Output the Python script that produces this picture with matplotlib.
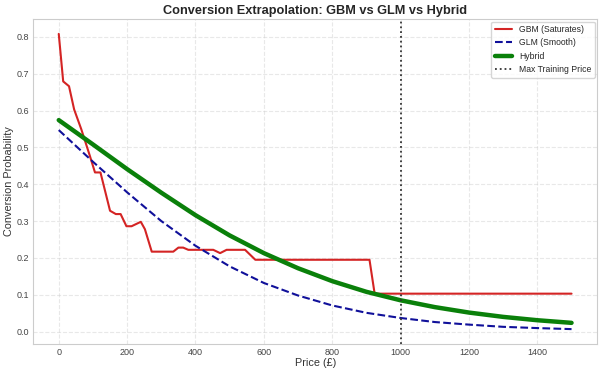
import matplotlib
matplotlib.use("Agg")
from matplotlib import pyplot as plt
import seaborn as sns

# GBM curve (step-like)
gbm_price = [0, 13, 30, 45, 66, 91, 106, 122, 150, 167, 181, 198, 213, 240, 252, 272,
             335, 350, 364, 379, 452, 472, 491, 545, 575, 909, 924, 1500]
gbm_prob = [0.808, 0.679, 0.666, 0.603, 0.549, 0.477, 0.432, 0.432, 0.328, 0.319, 0.319,
            0.286, 0.286, 0.298, 0.278, 0.217, 0.217, 0.228, 0.228, 0.222, 0.222, 0.213,
            0.222, 0.222, 0.195, 0.195, 0.103, 0.103]

# GLM and hybrid, sampled every 100
price = [0, 100, 200, 300, 400, 500, 600, 700, 800, 900, 1000, 1100, 1200, 1300, 1400, 1500]
glm_prob = [0.547, 0.461, 0.378, 0.300, 0.233, 0.177, 0.132, 0.098, 0.071, 0.051, 0.037,
            0.026, 0.019, 0.013, 0.0096, 0.0068]
hybrid_prob = [0.574, 0.508, 0.441, 0.377, 0.316, 0.261, 0.213, 0.172, 0.137, 0.108, 0.085,
               0.0665, 0.0517, 0.0400, 0.0309, 0.0238]

max_train_price = 1000


def main():
    sns.set_style("whitegrid")
    plt.rcParams['font.family'] = ['Liberation Sans', 'DejaVu Sans']
    fig = plt.figure(figsize=(6.02, 3.75), dpi=100)
    ax = fig.add_axes([0.055, 0.083, 0.937, 0.866])

    ax.plot(gbm_price, gbm_prob, color="#d42424", lw=1.5, label="GBM (Saturates)")
    ax.plot(price, glm_prob, color="#10109a", lw=1.5, ls="--", label="GLM (Smooth)")
    ax.plot(price, hybrid_prob, color="#0a800a", lw=3.2, label="Hybrid")
    ax.axvline(max_train_price, color="#333333", ls=":", lw=1.3, label="Max Training Price")

    ax.set_title("Conversion Extrapolation: GBM vs GLM vs Hybrid", fontsize=9.2, fontweight="bold", pad=4)
    ax.set_xlabel("Price (£)", fontsize=7.8, labelpad=1, color="#333333")
    ax.set_ylabel("Conversion Probability", fontsize=7.8, labelpad=2, color="#333333")
    ax.tick_params(labelsize=6.5, length=0, pad=3, labelcolor="#444444")
    ax.grid(True, ls="--", alpha=0.45)
    for sp in ax.spines.values():
        sp.set_color("#cccccc")
    ax.legend(loc="upper right", fontsize=6.2, frameon=True, borderaxespad=0.3)
    fig.savefig("out.png", dpi=100)


if __name__ == "__main__":
    main()
